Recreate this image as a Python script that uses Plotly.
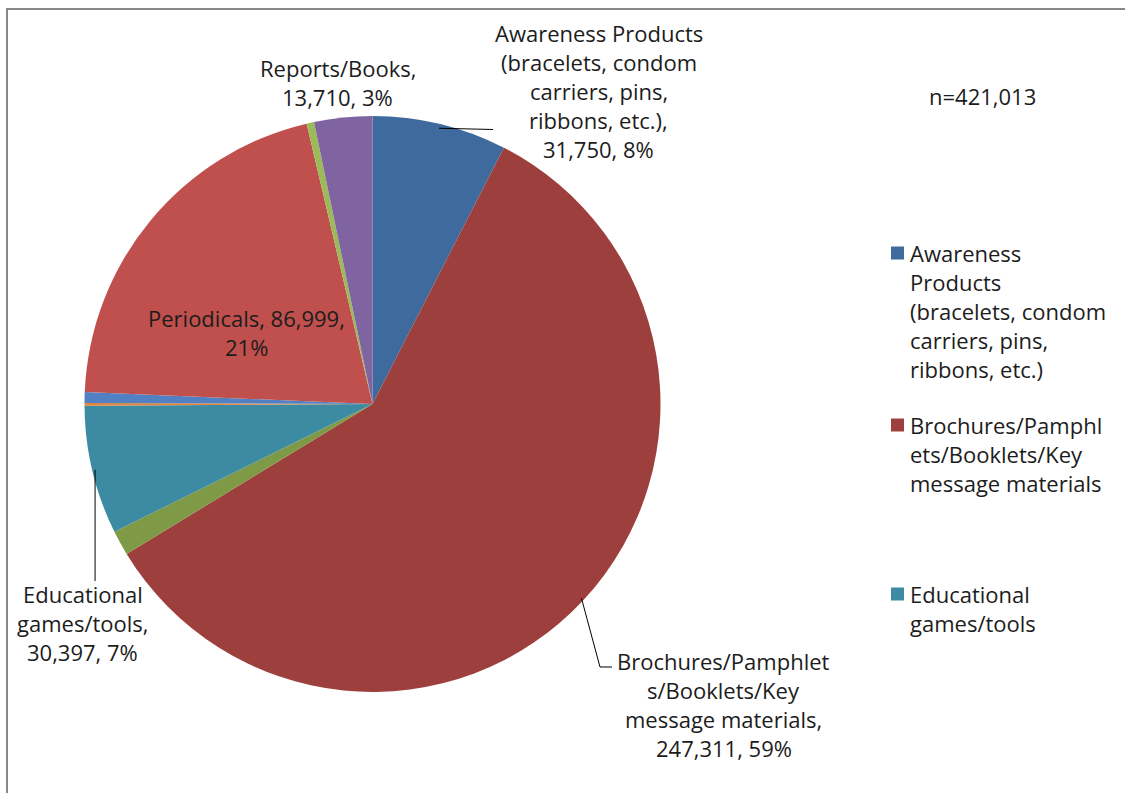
import math
import plotly.graph_objects as go

W, H = 1125, 793

# ---- data -------------------------------------------------------------
categories = [
    "Awareness Products (bracelets, condom carriers, pins, ribbons, etc.)",
    "Brochures/Pamphlets/Booklets/Key message materials",
    "Other materials A",
    "Educational games/tools",
    "Other materials B",
    "Other materials C",
    "Periodicals",
    "Other materials D",
    "Reports/Books",
]
values = [31750, 247311, 5900, 30397, 650, 2550, 86999, 1746, 13710]
colors = ["#3E6A9D", "#9D403D", "#7E9A47", "#3D8BA3", "#E0853B",
          "#5181C3", "#C0504D", "#9BBB59", "#8064A2"]
total = 421013

# wrapped label names (data label lines before the value line)
label_names = {
    0: ["Awareness Products", "(bracelets, condom", "carriers, pins,", "ribbons, etc.),"],
    1: ["Brochures/Pamphlet", "s/Booklets/Key", "message materials,"],
    3: ["Educational", "games/tools,"],
    6: ["Periodicals, 86,999,"],
    8: ["Reports/Books,"],
}
legend_items = [
    (0, ["Awareness", "Products", "(bracelets, condom", "carriers, pins,", "ribbons, etc.)"]),
    (1, ["Brochures/Pamphl", "ets/Booklets/Key", "message materials"]),
    (3, ["Educational", "games/tools"]),
]

# ---- geometry ---------------------------------------------------------
CX, CY, R = 372.5, 404.0, 288.0
FONT = "Open Sans, Calibri, Carlito, sans-serif"
FS = 22
TXT = "#1c1c1c"


def P(x, y):
    return x / W, 1 - y / H


def mid_point(i, frac=1.0):
    start = sum(values[:i]) / sum(values) * 360
    ang = math.radians(start + values[i] / sum(values) * 360 / 2)
    return CX + R * frac * math.sin(ang), CY - R * frac * math.cos(ang)


def value_text(i):
    return f"{values[i]:,}, {round(values[i] / total * 100)}%"


fig = go.Figure(go.Pie(
    labels=categories, values=values, sort=False, direction="clockwise",
    rotation=0, marker=dict(colors=colors, line=dict(width=0)),
    textinfo="none", hoverinfo="skip", showlegend=False,
    domain=dict(x=[(CX - R) / W, (CX + R) / W],
                y=[1 - (CY + R) / H, 1 - (CY - R) / H]),
))

annotations = []
shapes = []


def add_text(x, y, s, anchor="center"):
    px, py = P(x, y)
    annotations.append(dict(x=px, y=py, xref="paper", yref="paper", text=s,
                            showarrow=False, xanchor=anchor, yanchor="middle",
                            font=dict(family=FONT, size=FS, color=TXT)))


def add_line(pts):
    for (x0, y0), (x1, y1) in zip(pts[:-1], pts[1:]):
        a, b = P(x0, y0)
        c, d = P(x1, y1)
        shapes.append(dict(type="line", xref="paper", yref="paper",
                           x0=a, y0=b, x1=c, y1=d,
                           line=dict(color="#000000", width=1)))


# data labels: (slice, centre x, first line y)
label_pos = {0: (598.5, 33), 1: (723.5, 661), 3: (82.5, 594), 6: (246.5, 318), 8: (337.5, 68)}
STEP = 29
for i, (lx, ly) in label_pos.items():
    lines = list(label_names[i])
    if i == 6:
        lines.append(f"{round(values[i] / total * 100)}%")
    else:
        lines.append(value_text(i))
    for k, s in enumerate(lines):
        add_text(lx, ly + k * STEP, s)

# leader lines
x0, y0 = mid_point(0, 0.985)
add_line([(x0, y0), (493, 129.5)])
x1, y1 = mid_point(1, 0.99)
add_line([(x1, y1), (600, 667), (612, 667)])
x3, y3 = mid_point(3, 0.99)
add_line([(x3, y3), (x3, 581)])

# n annotation
add_text(982, 96, f"n={total:,}")

# legend
legend_y = [253, 425, 594]
for (i, lines), ly in zip(legend_items, legend_y):
    a, b = P(891, ly - 6.5)
    c, d = P(904, ly + 6.5)
    shapes.append(dict(type="rect", xref="paper", yref="paper", x0=a, y0=b, x1=c, y1=d,
                       fillcolor=colors[i], line=dict(width=0)))
    for k, s in enumerate(lines):
        add_text(908, ly + k * STEP, s, anchor="left")

# chart frame
a, b = P(7, 9)
c, d = P(1140, 810)
shapes.append(dict(type="rect", xref="paper", yref="paper", x0=a, y0=b, x1=c, y1=d,
                   line=dict(color="#878787", width=2), fillcolor="rgba(0,0,0,0)"))

fig.update_layout(
    width=W, height=H, margin=dict(l=0, r=0, t=0, b=0),
    paper_bgcolor="white", plot_bgcolor="white",
    annotations=annotations, shapes=shapes, showlegend=False,
)

fig.write_html("out.html")
